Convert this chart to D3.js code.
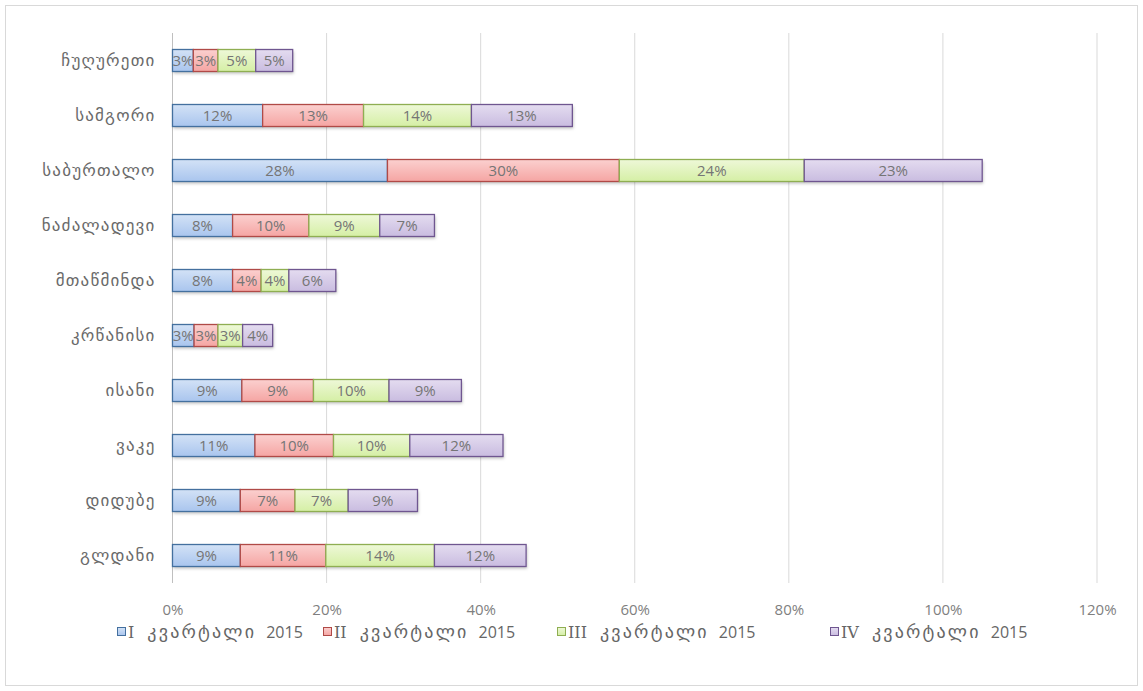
<!DOCTYPE html>
<html>
<head>
<meta charset="utf-8">
<script src="https://cdn.jsdelivr.net/npm/d3@7"></script>
<style>
  body { margin: 0; background: #fff; }
  svg { display: block; }
</style>
</head>
<body>
<div id="chart"></div>
<script>
// districts, top to bottom
const districts = ["ჩუღურეთი", "სამგორი", "საბურთალო", "ნაძალადევი", "მთაწმინდა",
  "კრწანისი", "ისანი", "ვაკე", "დიდუბე", "გლდანი"];

const seriesNames = ["I", "II", "III", "IV"];
const legendWord = "კვარტალი";
const legendYear = "2015";

// values in percent, same order as districts
const q1 = [2.7, 11.7, 27.9, 7.8, 7.8, 2.8, 9.0, 10.7, 8.8, 8.8];
const q2 = [3.2, 13.1, 30.1, 9.9, 3.7, 3.1, 9.3, 10.2, 7.1, 11.1];
const q3 = [4.9, 14.0, 24.0, 9.2, 3.6, 3.2, 9.8, 9.9, 6.9, 14.1];
const q4 = [4.8, 13.1, 23.1, 7.1, 6.1, 3.9, 9.4, 12.1, 9.0, 11.9];

const xTicks = [0, 20, 40, 60, 80, 100, 120];

const colors = [
  { top: "#d3e2f6", bottom: "#a9c5ee", stroke: "#44709f" },
  { top: "#fbd0cf", bottom: "#f5a5a3", stroke: "#b04a47" },
  { top: "#eef8d8", bottom: "#d5efa5", stroke: "#8fae52" },
  { top: "#e4dcf0", bottom: "#c9bce0", stroke: "#6f5690" }
];

const width = 1143, height = 691;
const margin = { top: 33, right: 46, bottom: 108, left: 172.5 };
const innerW = width - margin.left - margin.right;
const innerH = height - margin.top - margin.bottom;

const svg = d3.select("#chart").append("svg")
  .attr("width", width)
  .attr("height", height);

// gradients for bars
const defs = svg.append("defs");
colors.forEach((c, i) => {
  const g = defs.append("linearGradient")
    .attr("id", "grad" + i)
    .attr("x1", 0).attr("y1", 0).attr("x2", 0).attr("y2", 1);
  g.append("stop").attr("offset", "0%").attr("stop-color", c.top);
  g.append("stop").attr("offset", "100%").attr("stop-color", c.bottom);
});
const shadow = defs.append("filter").attr("id", "shadow")
  .attr("x", "-5%").attr("y", "-20%").attr("width", "110%").attr("height", "160%");
shadow.append("feDropShadow")
  .attr("dx", 1).attr("dy", 2).attr("stdDeviation", 1.5)
  .attr("flood-color", "#000").attr("flood-opacity", 0.25);

// outer border
svg.append("rect")
  .attr("x", 5.5).attr("y", 5.5)
  .attr("width", width - 11).attr("height", height - 11)
  .attr("fill", "#fff")
  .attr("stroke", "#d9d9d9");

const chart = svg.append("g")
  .attr("transform", `translate(${margin.left},${margin.top})`);

const x = d3.scaleLinear().domain([0, 120]).range([0, innerW]);
const y = d3.scaleBand().domain(districts).range([0, innerH]).paddingInner(0.6).paddingOuter(0.3);

// grid
chart.append("g")
  .selectAll("line")
  .data(xTicks)
  .join("line")
  .attr("x1", d => x(d)).attr("x2", d => x(d))
  .attr("y1", 0).attr("y2", innerH)
  .attr("stroke", d => d === 0 ? "#bfbfbf" : "#d9d9d9")
  .attr("stroke-width", 1);

// x axis labels
const xAxis = chart.append("g")
  .attr("transform", `translate(0,${innerH})`)
  .call(d3.axisBottom(x).tickValues(xTicks).tickFormat(d => d + "%").tickSize(0).tickPadding(21));
xAxis.select(".domain").remove();
xAxis.selectAll("text")
  .style("font-family", "'Open Sans', 'DejaVu Sans', sans-serif")
  .style("font-size", "15px")
  .attr("fill", "#7f7f7f");

// y axis labels
const yAxis = chart.append("g")
  .call(d3.axisLeft(y).tickSize(0).tickPadding(17));
yAxis.select(".domain").remove();
yAxis.selectAll("text")
  .style("font-family", "'DejaVu Sans', sans-serif")
  .style("font-size", "17px")
  .style("letter-spacing", "1.2px")
  .attr("fill", "#6a6a6a");

// stacked data
const rows = districts.map((d, i) => ({ district: d, s0: q1[i], s1: q2[i], s2: q3[i], s3: q4[i] }));
const stack = d3.stack().keys(["s0", "s1", "s2", "s3"])(rows);

// shadow under each full bar
chart.append("g")
  .selectAll("rect")
  .data(rows)
  .join("rect")
  .attr("x", 0)
  .attr("y", d => y(d.district))
  .attr("width", d => x(d.s0 + d.s1 + d.s2 + d.s3))
  .attr("height", y.bandwidth())
  .attr("fill", "#fff")
  .attr("filter", "url(#shadow)");

const layers = chart.append("g").selectAll("g.layer")
  .data(stack)
  .join("g")
  .attr("class", "layer");

layers.each(function (layer, i) {
  d3.select(this).selectAll("rect")
    .data(layer)
    .join("rect")
    .attr("x", d => x(d[0]))
    .attr("y", d => y(d.data.district))
    .attr("width", d => x(d[1]) - x(d[0]))
    .attr("height", y.bandwidth())
    .attr("fill", `url(#grad${i})`)
    .attr("stroke", colors[i].stroke)
    .attr("stroke-width", 1.3);
});

// labels on top of all bars
layers.each(function (layer) {
  d3.select(this).selectAll("text")
    .data(layer)
    .join("text")
    .attr("x", d => (x(d[0]) + x(d[1])) / 2)
    .attr("y", d => y(d.data.district) + y.bandwidth() / 2)
    .attr("dy", "0.36em")
    .attr("text-anchor", "middle")
    .style("font-family", "'Open Sans', 'DejaVu Sans', sans-serif")
    .style("font-size", "15px")
    .attr("fill", "#757575")
    .text(d => Math.round(d[1] - d[0]) + "%");
});

// legend
const legendX = [117, 323, 557, 830];
const legend = svg.append("g").attr("transform", "translate(0,632)");
seriesNames.forEach((name, i) => {
  const item = legend.append("g").attr("transform", `translate(${legendX[i]},0)`);
  item.append("rect")
    .attr("x", 0.5).attr("y", -4.5)
    .attr("width", 8).attr("height", 8)
    .attr("fill", `url(#grad${i})`)
    .attr("stroke", colors[i].stroke);
  const t = item.append("text")
    .attr("x", 11)
    .attr("y", 0)
    .attr("dy", "0.36em")
    .style("font-family", "'DejaVu Serif', serif")
    .style("font-size", "16px")
    .attr("fill", "#666");
  t.append("tspan").text(name);
  t.append("tspan").attr("dx", 13)
    .style("font-family", "'DejaVu Sans', sans-serif")
    .style("font-size", "18px")
    .style("letter-spacing", "2.2px")
    .text(legendWord);
  t.append("tspan").attr("dx", 10)
    .style("font-family", "'Open Sans', 'DejaVu Sans', sans-serif")
    .text(legendYear);
});
</script>
</body>
</html>
